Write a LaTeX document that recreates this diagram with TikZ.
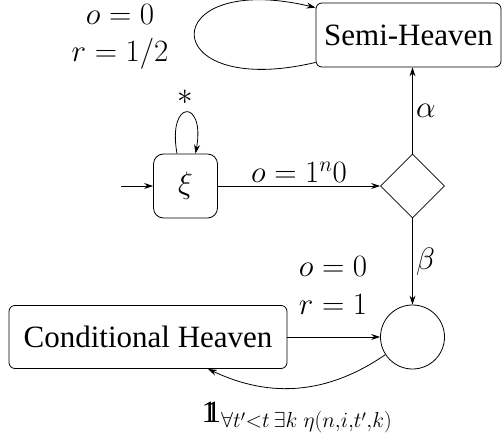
\RequirePackage{fix-cm}
\documentclass[tikz,border=0pt]{standalone}
\usepackage{fontspec}
\setmainfont{Liberation Serif}
\usetikzlibrary{arrows.meta,shapes.geometric}
\newcommand\indone{\mathrm{1\kern-0.37em1}}
\begin{document}
\begin{tikzpicture}[x=1pt,y=-1pt,
  every node/.style={font=\fontsize{31}{37}\selectfont},
  box/.style={draw,rounded corners=6pt,inner sep=0pt,line width=0.8pt},
  arr/.style={-{Stealth[length=9pt,width=6pt]},line width=0.8pt}]
\useasboundingbox (0,0) rectangle (502,438);
\node[box,minimum width=185pt,minimum height=64pt] (semi) at (408.5,35) {Semi-Heaven};
\node[box,rounded corners=10pt,minimum size=64pt] (xi) at (185.5,186) {$\xi$};
\node[draw,diamond,minimum size=64pt,inner sep=0pt,line width=0.8pt] (dia) at (412.5,186) {};
\node[draw,circle,minimum size=64pt,inner sep=0pt,line width=0.8pt] (circ) at (412.5,337) {};
\node[box,minimum width=278pt,minimum height=63pt] (ch) at (148,337) {Conditional Heaven};
\coordinate (in) at (121,186);
% labels
\node[anchor=base] (l1) at (120,25) {$o=0$};
\node[anchor=base] (l2) at (120,62) {$r=1/2$};
\node (star) at (185,97) {$*$};
\node[anchor=base] (l3) at (333,276) {$o=0$};
\node[anchor=base] (l4) at (333,314) {$r=1$};
\node[anchor=base] (l5) at (297,422) {$\indone_{\forall t'<t\,\exists k\;\eta(n,i,t',k)}$};
% edges
\draw[arr] (in) -- (xi);
\draw[arr] (xi) -- node[above] {$o=1^n0$} (dia);
\draw[arr] (dia.north) -- node[right] {$\alpha$} (dia.north |- semi.south);
\draw[arr] (dia) -- node[right] {$\beta$} (circ);
\draw[arr] (ch) -- (circ);
\draw[arr] (circ.213) to[bend left=30] ([xshift=60pt]ch.south);
\draw[arr] ([yshift=5pt]semi.south west) .. controls +(-161,38) and +(-161,-38) .. ([yshift=-5pt]semi.north west);
\draw[arr] ([xshift=-8.5pt]xi.north) .. controls +(-10,-55) and +(10,-55) .. ([xshift=10pt]xi.north);
\end{tikzpicture}
\end{document}
